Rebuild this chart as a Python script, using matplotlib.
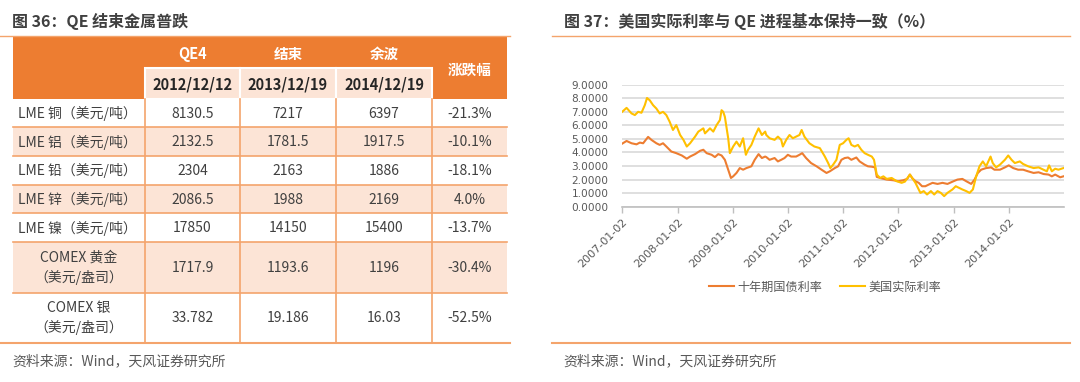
import matplotlib
matplotlib.use("Agg")
import matplotlib.pyplot as plt
from matplotlib.patches import Rectangle
from matplotlib.ticker import FormatStrFormatter

CJK = ['Noto Sans CJK SC', 'DejaVu Sans']
plt.rcParams['font.family'] = CJK

# ---------------- table data ----------------
table_title = "图 36：QE 结束金属普跌"
phases = ["QE4", "结束", "余波"]
phase_dates = ["2012/12/12", "2013/12/19", "2014/12/19"]
change_header = "涨跌幅"
metals = ["LME 铜（美元/吨）", "LME 铝（美元/吨）", "LME 铅（美元/吨）",
          "LME 锌（美元/吨）", "LME 镍（美元/吨）",
          "COMEX 黄金\n（美元/盎司）", "COMEX 银\n（美元/盎司）"]
price_qe4 = ["8130.5", "2132.5", "2304", "2086.5", "17850", "1717.9", "33.782"]
price_end = ["7217", "1781.5", "2163", "1988", "14150", "1193.6", "19.186"]
price_after = ["6397", "1917.5", "1886", "2169", "15400", "1196", "16.03"]
change_pct = ["-21.3%", "-10.1%", "-18.1%", "4.0%", "-13.7%", "-30.4%", "-52.5%"]

# ---------------- chart data ----------------
chart_title = "图 37：美国实际利率与 QE 进程基本保持一致（%）"
source_text = "资料来源：Wind，天风证券研究所"
series_names = ["十年期国债利率", "美国实际利率"]
year_ticks = ["2007-01-02", "2008-01-02", "2009-01-02", "2010-01-02",
              "2011-01-02", "2012-01-02", "2013-01-02", "2014-01-02"]

ten_year_x = [2007.00, 2007.08, 2007.17, 2007.26, 2007.32, 2007.38, 2007.47, 2007.53,
              2007.62, 2007.68, 2007.74, 2007.80, 2007.89, 2007.98, 2008.08, 2008.17,
              2008.23, 2008.32, 2008.41, 2008.47, 2008.53, 2008.62, 2008.68, 2008.74,
              2008.80, 2008.86, 2008.92, 2008.97, 2009.01, 2009.07, 2009.13, 2009.19,
              2009.25, 2009.34, 2009.40, 2009.47, 2009.53, 2009.59, 2009.61, 2009.67,
              2009.76, 2009.82, 2009.88, 2009.94, 2010.00, 2010.06, 2010.15, 2010.21,
              2010.26, 2010.33, 2010.42, 2010.52, 2010.61, 2010.70, 2010.76, 2010.85,
              2010.91, 2010.97, 2011.03, 2011.09, 2011.15, 2011.24, 2011.30, 2011.39,
              2011.45, 2011.52, 2011.58, 2011.61, 2011.67, 2011.79, 2011.91, 2012.00,
              2012.09, 2012.16, 2012.21, 2012.25, 2012.31, 2012.37, 2012.43, 2012.49,
              2012.55, 2012.62, 2012.71, 2012.80, 2012.89, 2013.00, 2013.07, 2013.16,
              2013.23, 2013.32, 2013.38, 2013.44, 2013.50, 2013.59, 2013.68, 2013.74,
              2013.84, 2013.93, 2014.00, 2014.08, 2014.17, 2014.26, 2014.35, 2014.45,
              2014.54, 2014.63, 2014.72, 2014.78, 2014.84, 2014.93, 2014.99]
ten_year_y = [4.65, 4.85, 4.68, 4.60, 4.73, 4.68, 5.15, 4.93,
              4.68, 4.56, 4.68, 4.44, 4.07, 3.95, 3.78, 3.54,
              3.70, 3.88, 4.12, 4.20, 3.95, 3.83, 3.66, 3.88,
              3.78, 3.46, 2.73, 2.12, 2.24, 2.49, 2.85, 2.73,
              2.85, 2.98, 3.46, 3.88, 3.59, 3.70, 3.66, 3.46,
              3.59, 3.34, 3.46, 3.59, 3.83, 3.70, 3.70, 3.83,
              3.95, 3.59, 3.22, 2.98, 2.73, 2.49, 2.61, 2.85,
              2.98, 3.46, 3.59, 3.63, 3.46, 3.63, 3.34, 3.10,
              2.98, 2.95, 2.90, 2.20, 2.12, 2.00, 1.95, 1.88,
              1.95, 2.05, 2.37, 2.12, 1.88, 1.76, 1.51, 1.51,
              1.63, 1.76, 1.68, 1.76, 1.68, 1.88, 2.00, 2.05,
              1.88, 1.68, 2.00, 2.49, 2.73, 2.85, 2.90, 2.73,
              2.73, 2.90, 3.05, 2.85, 2.73, 2.73, 2.61, 2.49,
              2.54, 2.41, 2.37, 2.24, 2.37, 2.17, 2.24]

real_x = [2007.00, 2007.08, 2007.17, 2007.23, 2007.29, 2007.35, 2007.41, 2007.45,
          2007.50, 2007.56, 2007.62, 2007.68, 2007.74, 2007.80, 2007.86, 2007.92,
          2007.98, 2008.05, 2008.11, 2008.17, 2008.23, 2008.32, 2008.38, 2008.47,
          2008.50, 2008.59, 2008.65, 2008.71, 2008.77, 2008.80, 2008.83, 2008.86,
          2008.92, 2008.95, 2009.01, 2009.07, 2009.13, 2009.19, 2009.24, 2009.28,
          2009.34, 2009.40, 2009.47, 2009.53, 2009.59, 2009.61, 2009.67, 2009.76,
          2009.82, 2009.88, 2009.91, 2009.97, 2010.03, 2010.09, 2010.15, 2010.21,
          2010.25, 2010.30, 2010.39, 2010.48, 2010.58, 2010.67, 2010.73, 2010.77,
          2010.82, 2010.88, 2010.94, 2011.00, 2011.06, 2011.10, 2011.15, 2011.21,
          2011.27, 2011.33, 2011.39, 2011.45, 2011.52, 2011.56, 2011.61, 2011.67,
          2011.73, 2011.79, 2011.88, 2011.97, 2012.06, 2012.12, 2012.21, 2012.25,
          2012.31, 2012.37, 2012.40, 2012.46, 2012.52, 2012.59, 2012.65, 2012.71,
          2012.77, 2012.83, 2012.89, 2012.98, 2013.04, 2013.10, 2013.16, 2013.23,
          2013.29, 2013.35, 2013.41, 2013.47, 2013.53, 2013.59, 2013.67, 2013.71,
          2013.77, 2013.84, 2013.93, 2013.99, 2014.05, 2014.11, 2014.20, 2014.26,
          2014.35, 2014.45, 2014.54, 2014.63, 2014.69, 2014.73, 2014.78, 2014.84,
          2014.90, 2014.99]
real_y = [7.00, 7.29, 6.88, 6.76, 7.00, 6.93, 7.49, 8.02,
          7.85, 7.49, 7.24, 6.88, 7.00, 6.76, 6.27, 5.66,
          6.02, 5.29, 4.93, 4.44, 4.68, 5.17, 5.54, 5.78,
          5.41, 5.78, 5.54, 6.02, 6.39, 7.12, 7.00, 6.63,
          5.05, 3.95, 4.44, 4.80, 4.44, 5.05, 3.83, 4.20,
          4.56, 5.17, 5.78, 5.29, 5.54, 5.29, 5.05, 4.93,
          5.17, 4.93, 4.44, 4.93, 5.29, 5.05, 5.17, 5.29,
          5.66, 5.17, 4.68, 4.44, 4.32, 3.70, 3.22, 2.85,
          3.10, 3.46, 4.56, 4.68, 4.93, 5.05, 4.56, 4.44,
          4.56, 4.20, 3.95, 3.83, 3.70, 3.46, 2.37, 2.12,
          2.24, 2.05, 2.12, 1.88, 1.76, 1.85, 2.37, 2.12,
          1.76, 1.27, 1.02, 1.15, 0.90, 1.15, 0.90, 1.15,
          1.02, 0.78, 1.02, 1.27, 1.51, 1.39, 1.27, 1.15,
          1.02, 1.27, 2.24, 2.98, 3.34, 2.98, 3.70, 3.22,
          2.90, 3.10, 3.46, 3.78, 3.46, 3.22, 3.34, 3.15,
          2.98, 2.85, 2.90, 2.73, 2.61, 3.05, 2.61, 2.80,
          2.73, 2.85]

# ---------------- styles ----------------
ORANGE = '#ED7D31'
YELLOW = '#FFC000'
PEACH = '#FCE4D6'
LINE_OR = '#F4A46C'
TXT = '#404040'
GREY = '#595959'

W, H = 1080, 382
fig = plt.figure(figsize=(W / 100, H / 100), dpi=100)

ov = fig.add_axes([0, 0, 1, 1], zorder=0)
ov.set_xlim(0, W)
ov.set_ylim(H, 0)
ov.axis('off')

# ---------- left panel: table ----------
ov.text(12, 21, table_title, fontsize=11.5, fontweight='bold', color=TXT,
        ha='left', va='center')
ov.plot([0, 510], [36, 36], color=LINE_OR, lw=1.0)

col_edges = [12.7, 145, 240, 336, 432, 507]
row_edges = [99, 127.3, 156, 185, 213.3, 241.7, 292.7, 342.7]
hdr_top, hdr_mid = 37, 68

ov.add_patch(Rectangle((col_edges[0], hdr_top), col_edges[-1] - col_edges[0],
                       row_edges[0] - hdr_top, fc=ORANGE, ec='none'))
for i in range(3):
    x0, x1 = col_edges[i + 1], col_edges[i + 2]
    ov.add_patch(Rectangle((x0, hdr_mid), x1 - x0, row_edges[0] - hdr_mid,
                           fc=PEACH, ec='white', lw=1.5))
    xc = (x0 + x1) / 2
    ov.text(xc, (hdr_top + hdr_mid) / 2 + 1, phases[i], fontsize=10.5,
            fontweight='bold', color='white', ha='center', va='center')
    ov.text(xc, (hdr_mid + row_edges[0]) / 2 + 1, phase_dates[i], fontsize=10.5,
            fontweight='bold', color='#262626', ha='center', va='center')
ov.text((col_edges[4] + col_edges[5]) / 2, 70, change_header, fontsize=10.5,
        fontweight='bold', color='white', ha='center', va='center')

for r in range(len(metals)):
    y0, y1 = row_edges[r], row_edges[r + 1]
    fc = PEACH if r % 2 == 1 else 'white'
    ov.add_patch(Rectangle((col_edges[0], y0), col_edges[-1] - col_edges[0],
                           y1 - y0, fc=fc, ec='none'))
    yc = (y0 + y1) / 2 + 0.5
    if '\n' in metals[r]:
        ov.text((col_edges[0] + col_edges[1]) / 2, yc, metals[r], fontsize=10,
                color=TXT, ha='center', va='center', linespacing=1.45)
    else:
        ov.text(18, yc, metals[r], fontsize=10, color=TXT, ha='left', va='center')
    vals = [price_qe4[r], price_end[r], price_after[r], change_pct[r]]
    for c, v in enumerate(vals):
        ov.text((col_edges[c + 1] + col_edges[c + 2]) / 2, yc, v, fontsize=10,
                color=TXT, ha='center', va='center')

for y in row_edges[1:-1]:
    ov.plot([col_edges[0], col_edges[-1]], [y, y], color=LINE_OR, lw=1.2)
for x in col_edges[1:5]:
    ov.plot([x, x], [row_edges[0], row_edges[-1]], color=LINE_OR, lw=1.2)
ov.plot([0, 510], [row_edges[-1], row_edges[-1]], color=LINE_OR, lw=1.5)
ov.text(12, 361, source_text, fontsize=10, color=GREY, ha='left', va='center')

# ---------- right panel: line chart ----------
ov.text(564, 21.5, chart_title, fontsize=11.5, fontweight='bold', color=TXT,
        ha='left', va='center')
ov.plot([552, 1070], [36, 36], color=LINE_OR, lw=1.0)
ov.plot([552, 1070], [343, 343], color=LINE_OR, lw=1.5)
ov.text(563, 361, source_text, fontsize=10, color=GREY, ha='left', va='center')

L, R, T, B = 622.3, 1064, 84.7, 206.7
ax = fig.add_axes([L / W, 1 - B / H, (R - L) / W, (B - T) / H], zorder=1)
ax.patch.set_alpha(0)
ax.plot(ten_year_x, ten_year_y, color=ORANGE, lw=1.5, label=series_names[0])
ax.plot(real_x, real_y, color=YELLOW, lw=1.5, label=series_names[1])

ax.set_ylim(0, 9)
ax.set_yticks(range(0, 10))
ax.yaxis.set_major_formatter(FormatStrFormatter('%.4f'))
tick_pos = [int(s[:4]) + 1 / 365 for s in year_ticks]
ax.set_xlim(tick_pos[0], 2015.0)
ax.set_xticks(tick_pos)
ax.set_xticklabels(year_ticks, rotation=45, ha='right', va='top',
                   rotation_mode='anchor')
ax.grid(axis='y', color='#D9D9D9', lw=1.2)
ax.set_axisbelow(True)
for s in ['top', 'right', 'left']:
    ax.spines[s].set_visible(False)
ax.spines['bottom'].set_color('#BFBFBF')
ax.spines['bottom'].set_linewidth(1.2)
ax.tick_params(axis='y', length=0, pad=10, labelsize=7.6, labelcolor=GREY)
ax.tick_params(axis='x', length=4, width=1, color='#BFBFBF', pad=3,
               labelsize=8, labelcolor=GREY)
for lab in ax.get_xticklabels() + ax.get_yticklabels():
    lab.set_fontfamily(['DejaVu Sans'])

fig.legend(loc='center', bbox_to_anchor=(825 / W, 1 - 287 / H), ncol=2,
           frameon=False, fontsize=8.7, labelcolor=GREY, handlelength=2.1,
           handletextpad=0.3, columnspacing=1.4)

fig.savefig('out.png', dpi=100)
